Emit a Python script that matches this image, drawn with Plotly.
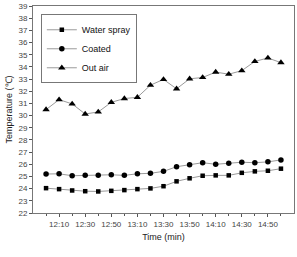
import plotly.graph_objects as go

times = ["12:00","12:10","12:20","12:30","12:40","12:50","13:00","13:10","13:20","13:30",
         "13:40","13:50","14:00","14:10","14:20","14:30","14:40","14:50","15:00"]
water_spray = [24.04, 23.96, 23.85, 23.79, 23.77, 23.82, 23.88, 23.96, 24.02, 24.2,
               24.6, 24.85, 25.06, 25.09, 25.09, 25.3, 25.42, 25.47, 25.64]
coated = [25.2, 25.22, 25.06, 25.09, 25.09, 25.14, 25.09, 25.22, 25.26, 25.42,
          25.8, 25.97, 26.13, 26.0, 26.08, 26.17, 26.13, 26.2, 26.36]
out_air = [30.49, 31.31, 30.96, 30.13, 30.3, 31.09, 31.4, 31.5, 32.5, 32.97,
           32.2, 33.02, 33.13, 33.57, 33.4, 33.69, 34.45, 34.73, 34.35]
tick_labels = ["12:10","12:30","12:50","13:10","13:30","13:50","14:10","14:30","14:50"]

def to_min(t):
    h, m = t.split(":")
    return (int(h) - 12) * 60 + int(m)

x = [to_min(t) for t in times]
tickvals = [to_min(t) for t in tick_labels]

line_style = dict(color="#9a9a9a", width=1)
fig = go.Figure()
fig.add_trace(go.Scatter(x=x, y=water_spray, name="Water spray", mode="lines+markers",
                         line=line_style, marker=dict(symbol="square", size=4.5, color="black")))
fig.add_trace(go.Scatter(x=x, y=coated, name="Coated", mode="lines+markers",
                         line=line_style, marker=dict(symbol="circle", size=5.5, color="black")))
fig.add_trace(go.Scatter(x=x, y=out_air, name="Out air", mode="lines+markers",
                         line=line_style, marker=dict(symbol="triangle-up", size=6.5, color="black")))

axis_common = dict(showgrid=False, zeroline=False, showline=True, linecolor="#777777",
                   linewidth=1, mirror=True, ticks="outside", tickcolor="#555555",
                   ticklen=3, tickfont=dict(size=8, color="#444444", family="Arial, Liberation Sans"))

fig.update_xaxes(range=[-10, 190], tickvals=tickvals, ticktext=tick_labels,
                 minor=dict(ticks="outside", dtick=20, tick0=0, ticklen=2, tickcolor="#555555"),
                 title=dict(text="Time (min)", font=dict(size=9, color="#222222"), standoff=6),
                 **axis_common)
fig.update_yaxes(range=[22, 39], dtick=1,
                 title=dict(text="Temperature (℃)", font=dict(size=9, color="#222222"), standoff=4),
                 **axis_common)

fig.update_layout(width=297, height=257, margin=dict(l=33, r=3, t=6, b=44),
                  plot_bgcolor="white", paper_bgcolor="white",
                  font=dict(family="Arial, Liberation Sans"),
                  legend=dict(x=0.03, y=0.96, xanchor="left", yanchor="top",
                              bordercolor="#777777", borderwidth=1, bgcolor="white",
                              font=dict(size=9, color="#111111"), tracegroupgap=0,
                              itemwidth=30))
fig.write_html("out.html")
